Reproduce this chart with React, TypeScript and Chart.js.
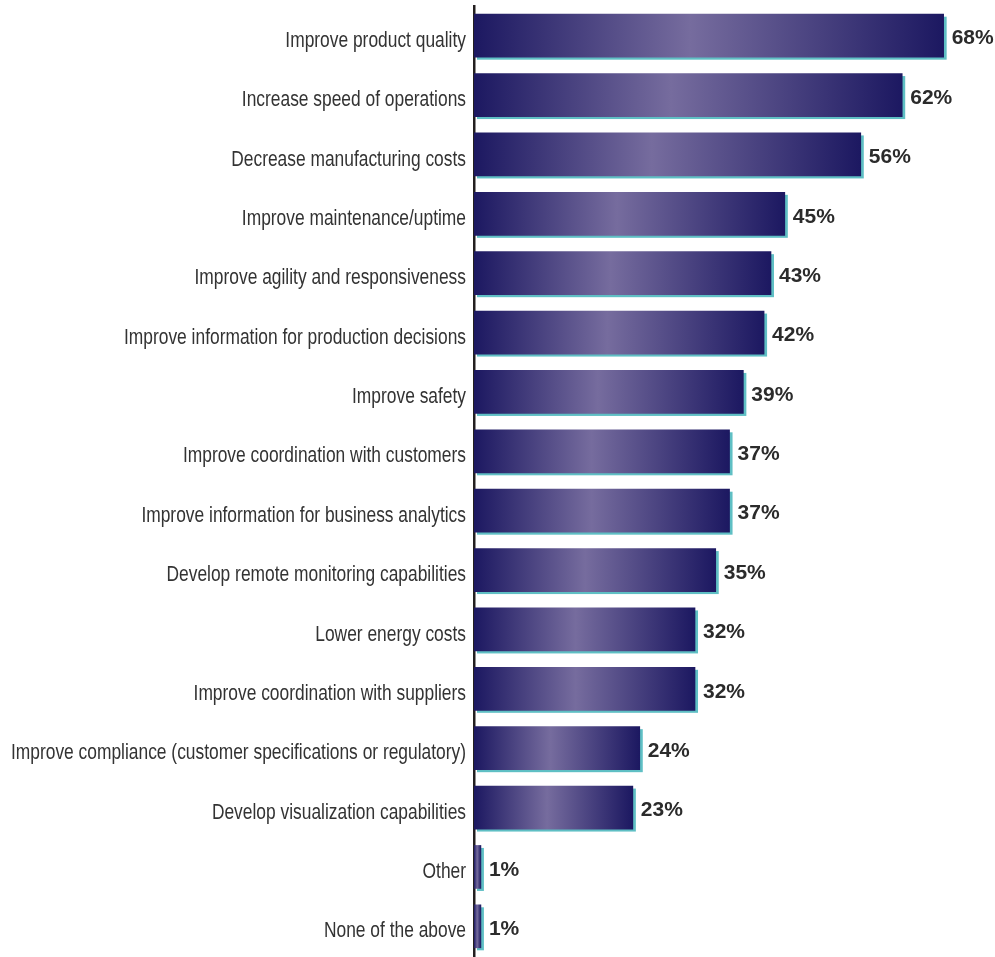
import React, { useEffect, useRef } from "react";
import { Chart, registerables } from "chart.js";

Chart.register(...registerables);

const categories: string[] = [
  "Improve product quality",
  "Increase speed of operations",
  "Decrease manufacturing costs",
  "Improve maintenance/uptime",
  "Improve agility and responsiveness",
  "Improve information for production decisions",
  "Improve safety",
  "Improve coordination with customers",
  "Improve information for business analytics",
  "Develop remote monitoring capabilities",
  "Lower energy costs",
  "Improve coordination with suppliers",
  "Improve compliance (customer specifications or regulatory)",
  "Develop visualization capabilities",
  "Other",
  "None of the above",
];

const values: number[] = [68, 62, 56, 45, 43, 42, 39, 37, 37, 35, 32, 32, 24, 23, 1, 1];

const DARK = "#1c1861";
const LIGHT = "#766c9e";
const SHADOW = "#5fbfc4";
const LABEL_FONT = "22px 'Liberation Sans', Arial, sans-serif";
const LABEL_RIGHT = 466;
const LABEL_MAX_WIDTH = 455;

const shadowPlugin = {
  id: "barShadow",
  beforeDatasetsDraw(chart: any) {
    const ctx = chart.ctx;
    const meta = chart.getDatasetMeta(0);
    ctx.save();
    ctx.fillStyle = SHADOW;
    meta.data.forEach((el: any) => {
      const { x, y, base, height } = el.getProps(["x", "y", "base", "height"], true);
      const left = Math.min(x, base);
      const w = Math.abs(x - base);
      ctx.fillRect(left + 3, y - height / 2 + 2.5, w, height);
    });
    ctx.restore();
  },
};

const valueLabelPlugin = {
  id: "valueLabels",
  afterDatasetsDraw(chart: any) {
    const ctx = chart.ctx;
    const meta = chart.getDatasetMeta(0);
    const data = chart.data.datasets[0].data as number[];
    ctx.save();
    ctx.font = "bold 21px 'Liberation Sans', Arial, sans-serif";
    ctx.fillStyle = "#2b2b2b";
    ctx.textAlign = "left";
    ctx.textBaseline = "middle";
    meta.data.forEach((el: any, i: number) => {
      const { x, y } = el.getProps(["x", "y"], true);
      ctx.fillText(`${data[i]}%`, x + 8, y + 3);
    });
    ctx.restore();
  },
};

// Category labels drawn horizontally condensed (no narrow font is installed)
const condensedLabelPlugin = {
  id: "condensedLabels",
  afterDraw(chart: any) {
    const ctx = chart.ctx;
    const sy = chart.scales.y;
    const labels = chart.data.labels as string[];
    ctx.save();
    ctx.font = LABEL_FONT;
    let maxW = 0;
    labels.forEach((l) => {
      maxW = Math.max(maxW, ctx.measureText(l).width);
    });
    const k = maxW > 0 ? LABEL_MAX_WIDTH / maxW : 1;
    ctx.fillStyle = "#333333";
    ctx.textAlign = "right";
    ctx.textBaseline = "middle";
    labels.forEach((l, i) => {
      const y = sy.getPixelForValue(i);
      ctx.save();
      ctx.translate(LABEL_RIGHT, y + 5);
      ctx.scale(k, 1);
      ctx.fillText(l, 0, 0);
      ctx.restore();
    });
    ctx.restore();
  },
};

export default function App() {
  const ref = useRef<HTMLCanvasElement | null>(null);

  useEffect(() => {
    if (!ref.current) return;
    const chart = new Chart(ref.current, {
      type: "bar",
      data: {
        labels: categories,
        datasets: [
          {
            data: values,
            barThickness: 43,
            backgroundColor: (c: any) => {
              const ch = c.chart;
              const sx = ch.scales && ch.scales.x;
              if (!sx || c.type !== "data") return DARK;
              const x0 = sx.getPixelForValue(0);
              const x1 = sx.getPixelForValue(c.raw);
              if (!isFinite(x0) || !isFinite(x1) || x1 - x0 < 1) return DARK;
              const g = ch.ctx.createLinearGradient(x0, 0, x1, 0);
              g.addColorStop(0, DARK);
              g.addColorStop(0.46, LIGHT);
              g.addColorStop(1, DARK);
              return g;
            },
            borderWidth: 0,
          },
        ],
      },
      options: {
        indexAxis: "y",
        responsive: false,
        maintainAspectRatio: false,
        animation: false,
        layout: { padding: { top: 6, bottom: 1, right: 3, left: 0 } },
        plugins: {
          legend: { display: false },
          tooltip: { enabled: false },
        },
        scales: {
          x: {
            display: false,
            min: 0,
            max: 75,
          },
          y: {
            grid: { display: false, drawTicks: false },
            border: { display: true, color: "#231f20", width: 2.5 },
            ticks: { display: false },
            afterFit: (s: any) => {
              s.width = 474;
            },
          },
        },
      },
      plugins: [shadowPlugin, valueLabelPlugin, condensedLabelPlugin],
    });
    return () => chart.destroy();
  }, []);

  return (
    <div style={{ position: "fixed", left: 0, top: 0, width: 995, height: 957, background: "#fff" }}>
      <canvas ref={ref} width={995} height={957} />
    </div>
  );
}
